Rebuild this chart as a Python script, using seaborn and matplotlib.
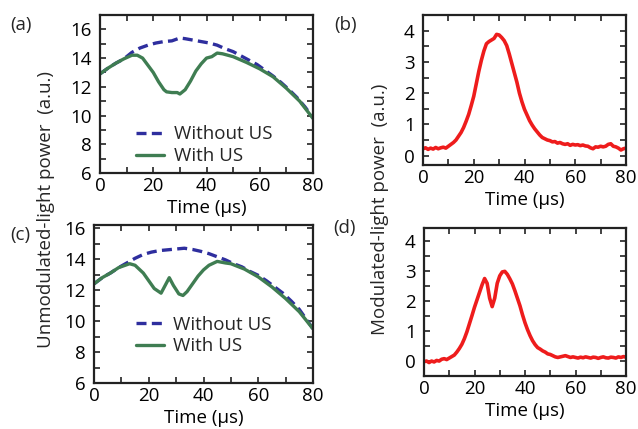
import seaborn as sns
import matplotlib.pyplot as plt
from matplotlib.ticker import MultipleLocator

# ---- data ----
# (a) unmodulated light, first case
t_a_no = [0, 3, 6, 9, 12, 15, 18, 21, 24, 27, 30, 32, 35, 38, 41, 44, 47, 50, 53, 56, 59, 62, 65, 68, 71, 74, 77, 80]
p_a_no = [12.9, 13.3, 13.65, 13.95, 14.4, 14.7, 14.9, 15.05, 15.15, 15.2, 15.4, 15.35, 15.25, 15.15, 15.05, 14.9,
          14.65, 14.45, 14.15, 13.85, 13.55, 13.15, 12.75, 12.3, 11.8, 11.25, 10.6, 9.85]
t_a_us = [0, 3, 6, 9, 12, 14, 16, 18, 20, 22, 24, 25, 27, 29, 30, 32, 34, 36, 38, 40, 42, 44, 46, 50, 55, 60, 65,
          70, 75, 80]
p_a_us = [12.9, 13.3, 13.65, 13.95, 14.2, 14.2, 14.0, 13.5, 13.0, 12.35, 11.8, 11.65, 11.6, 11.6, 11.5, 11.8,
          12.4, 13.1, 13.6, 14.0, 14.1, 14.35, 14.3, 14.1, 13.7, 13.25, 12.7, 11.9, 11.0, 9.8]

# (c) unmodulated light, second case
t_c_no = [0, 3, 6, 9, 12, 15, 18, 21, 24, 27, 30, 33, 36, 39, 42, 45, 48, 51, 54, 57, 60, 63, 66, 69, 72, 75, 78, 80]
p_c_no = [12.4, 12.8, 13.1, 13.45, 13.75, 14.05, 14.3, 14.45, 14.55, 14.6, 14.65, 14.7, 14.62, 14.5, 14.35, 14.15,
          13.95, 13.7, 13.5, 13.2, 12.95, 12.6, 12.2, 11.8, 11.3, 10.75, 10.0, 9.5]
t_c_us = [0, 3, 6, 9, 13, 15, 18, 20, 22, 24.5, 26, 27.5, 29, 31, 32.5, 34, 36, 38, 40, 42, 45, 48, 50, 55, 60, 65,
          70, 75, 80]
p_c_us = [12.4, 12.8, 13.1, 13.45, 13.7, 13.6, 13.1, 12.6, 12.1, 11.8, 12.3, 12.8, 12.3, 11.75, 11.65, 11.9,
          12.4, 12.9, 13.3, 13.6, 13.85, 13.75, 13.7, 13.35, 12.85, 12.2, 11.45, 10.6, 9.5]

# (b), (d) modulated light, 1 us steps
t_mod = list(range(81))
p_b = [0.22, 0.25, 0.2, 0.24, 0.21, 0.26, 0.22, 0.25, 0.27, 0.24, 0.3, 0.36, 0.42, 0.5, 0.62, 0.74, 0.9, 1.1,
       1.32, 1.6, 1.9, 2.3, 2.7, 3.05, 3.35, 3.58, 3.65, 3.7, 3.75, 3.88, 3.86, 3.78, 3.68, 3.52, 3.25, 2.95,
       2.65, 2.35, 2.0, 1.72, 1.48, 1.3, 1.12, 0.98, 0.86, 0.76, 0.66, 0.58, 0.54, 0.5, 0.48, 0.44, 0.45, 0.4,
       0.42, 0.38, 0.36, 0.38, 0.33, 0.36, 0.34, 0.35, 0.32, 0.34, 0.31, 0.3, 0.25, 0.22, 0.28, 0.27, 0.3,
       0.28, 0.3, 0.36, 0.38, 0.3, 0.28, 0.24, 0.18, 0.22, 0.24]
p_d = [-0.02, 0.0, -0.05, 0.0, -0.03, 0.02, 0.0, 0.06, 0.08, 0.05, 0.1, 0.15, 0.2, 0.3, 0.42, 0.56, 0.75, 0.98,
       1.25, 1.52, 1.8, 2.05, 2.3, 2.55, 2.76, 2.6, 2.1, 1.82, 2.1, 2.6, 2.85, 2.98, 3.0, 2.9, 2.75, 2.58, 2.35,
       2.1, 1.85, 1.55, 1.28, 1.05, 0.85, 0.68, 0.55, 0.45, 0.4, 0.34, 0.3, 0.24, 0.22, 0.18, 0.14, 0.12, 0.14,
       0.16, 0.18, 0.15, 0.12, 0.14, 0.12, 0.1, 0.13, 0.11, 0.14, 0.12, 0.1, 0.13, 0.12, 0.09, 0.12, 0.14,
       0.11, 0.1, 0.13, 0.12, 0.1, 0.14, 0.12, 0.15, 0.13]

blue = "#2e2e9e"
green = "#3f7d52"
red = "#ee1c1c"

sns.set_style("ticks")
plt.rcParams["font.family"] = ["Open Sans", "DejaVu Sans"]
plt.rcParams["font.size"] = 13.5

fig = plt.figure(figsize=(6.38, 4.29), dpi=100)
W, H = 638, 429


def add_ax(l, t, r, b):
    return fig.add_axes([l / W, 1 - b / H, (r - l) / W, (b - t) / H])


ax_a = add_ax(100, 15, 313, 173)
ax_b = add_ax(423, 15, 626, 165)
ax_c = add_ax(94, 225, 313, 383)
ax_d = add_ax(424, 228, 626, 376)


def style(ax, ylim, ymaj, ymin):
    ax.set_xlim(0, 80)
    ax.set_ylim(*ylim)
    ax.xaxis.set_major_locator(MultipleLocator(20))
    ax.xaxis.set_minor_locator(MultipleLocator(10))
    ax.yaxis.set_major_locator(MultipleLocator(ymaj))
    ax.yaxis.set_minor_locator(MultipleLocator(ymin))
    ax.tick_params(which="both", direction="in", top=True, right=True, width=1.2, colors="#222222",
                   labelcolor="black", length=4)
    ax.tick_params(axis="y", pad=6)
    ax.tick_params(axis="x", pad=3)
    for s in ax.spines.values():
        s.set_linewidth(1.6)
        s.set_color("#222222")
    ax.set_xlabel("Time (µs)", labelpad=3, color="black")
    ax.set_ylabel("")


for ax, tn, pn, tu, pu in [(ax_a, t_a_no, p_a_no, t_a_us, p_a_us), (ax_c, t_c_no, p_c_no, t_c_us, p_c_us)]:
    sns.lineplot(x=tn, y=pn, ax=ax, color=blue, linewidth=2.4, label="Without US")
    ax.lines[-1].set_dashes((3, 1.6))
    sns.lineplot(x=tu, y=pu, ax=ax, color=green, linewidth=2.4, label="With US")

style(ax_a, (6, 17), 2, 1)
style(ax_c, (6, 16.2), 2, 1)

ax_a.legend(loc="center", bbox_to_anchor=(0.49, 0.175), frameon=False, handlelength=1.5,
            handletextpad=0.5, labelspacing=0.2)
ax_c.legend(loc="center", bbox_to_anchor=(0.5, 0.3), frameon=False, handlelength=1.5,
            handletextpad=0.5, labelspacing=0.2)

sns.lineplot(x=t_mod, y=p_b, ax=ax_b, color=red, linewidth=2.6)
sns.lineplot(x=t_mod, y=p_d, ax=ax_d, color=red, linewidth=2.6)
style(ax_b, (-0.3, 4.5), 1, 0.5)
style(ax_d, (-0.5, 4.45), 1, 0.5)

fig.text(46 / W, 1 - 210 / H, "Unmodulated-light power  (a.u.)", rotation=90, ha="center", va="center")
fig.text(380 / W, 1 - 209 / H, "Modulated-light power  (a.u.)", rotation=90, ha="center", va="center")

for lbl, x, y in [("(a)", 21, 25), ("(b)", 346, 25), ("(c)", 20, 235), ("(d)", 345, 228)]:
    fig.text(x / W, 1 - y / H, lbl, ha="center", va="center")

fig.savefig("out.png", dpi=100)
